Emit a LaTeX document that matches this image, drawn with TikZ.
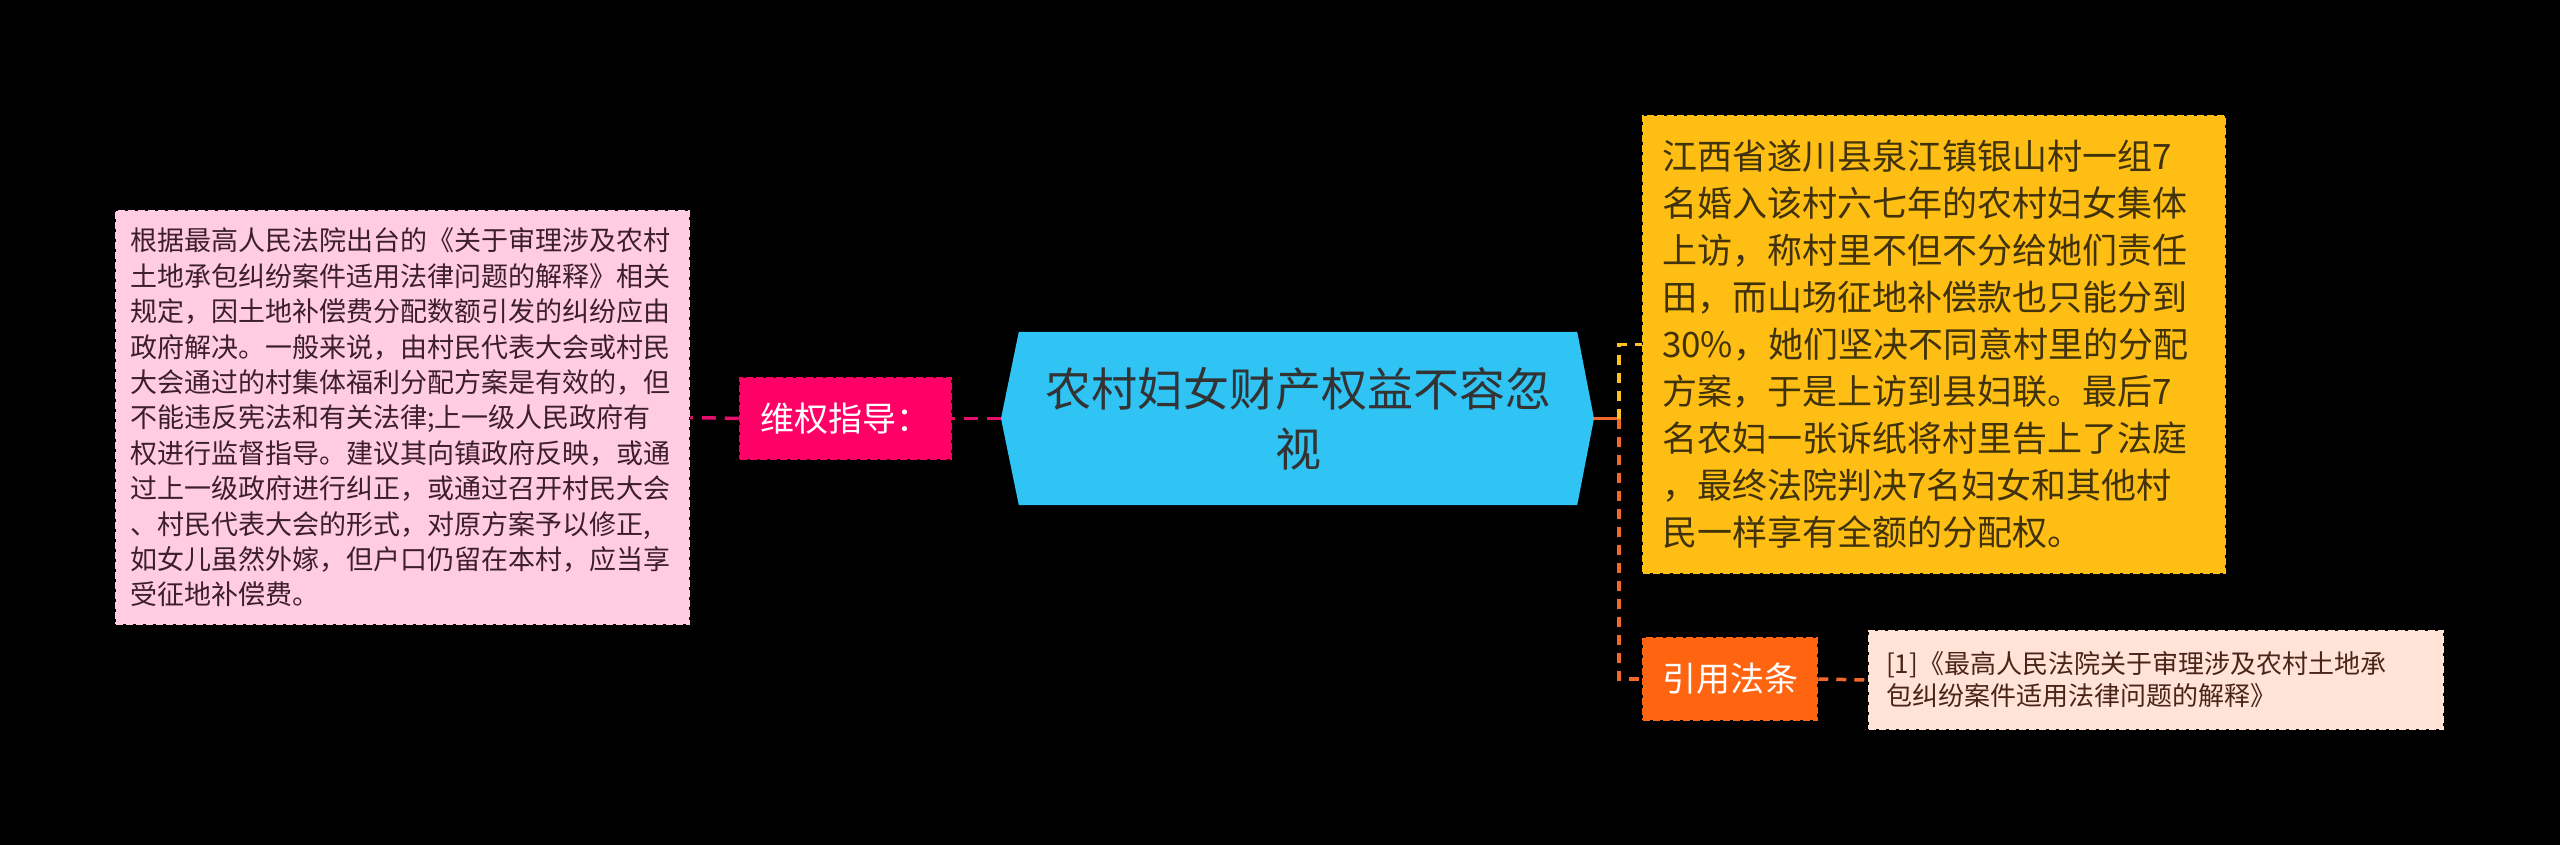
\documentclass[tikz,border=0pt]{standalone}
\usepackage{fontspec}
\newfontfamily\cjk{Noto Sans CJK SC}
\usetikzlibrary{backgrounds,calc}
\definecolor{pinkfill}{HTML}{FFCCE1}
\definecolor{pinktext}{HTML}{3D1F2B}
\definecolor{magfill}{HTML}{FF0066}
\definecolor{magline}{HTML}{E5106D}
\definecolor{cenfill}{HTML}{30C4F5}
\definecolor{centext}{HTML}{333333}
\definecolor{yelfill}{HTML}{FFBE14}
\definecolor{yeltext}{HTML}{40320A}
\definecolor{yelline}{HTML}{FFC21F}
\definecolor{orfill}{HTML}{FF6411}
\definecolor{orline}{HTML}{F2672C}
\definecolor{peachfill}{HTML}{FFE3D6}
\definecolor{peachtext}{HTML}{4A2419}
\tikzset{
  boxbase/.style={inner ysep=0pt, line width=2.5pt, dash pattern=on 7pt off 3pt},
  pinkbox/.style={boxbase, fill=pinkfill, draw=pinkfill, text=pinktext, align=left,
    inner xsep=14pt, text width=545pt, minimum height=413pt,
    font=\cjk\fontsize{27}{35.4}\selectfont},
  magbox/.style={boxbase, fill=magfill, draw=magfill, text=white, inner xsep=0pt,
    minimum width=211pt, minimum height=81pt, font=\cjk\fontsize{34}{40}\selectfont},
  centext/.style={inner sep=0pt, align=center, text=centext, minimum width=558pt,
    minimum height=173pt, font=\cjk\fontsize{46}{60}\selectfont},
  yelbox/.style={boxbase, fill=yelfill, draw=yelfill, text=yeltext, align=left,
    inner xsep=19pt, text width=544pt, minimum height=457pt,
    font=\cjk\fontsize{35}{47}\selectfont},
  citebox/.style={boxbase, fill=orfill, draw=orfill, text=white, inner xsep=0pt,
    minimum width=174pt, minimum height=82pt, font=\cjk\fontsize{34}{40}\selectfont},
  peachbox/.style={boxbase, fill=peachfill, draw=peachfill, text=peachtext, align=left,
    inner xsep=17pt, text width=540pt, minimum height=98pt,
    font=\cjk\fontsize{26}{32}\selectfont},
  maglink/.style={draw=magline, line width=3.5pt, dash pattern=on 14pt off 9pt},
  yellink/.style={draw=yelline, line width=3.5pt, dash pattern=on 10pt off 8pt},
  orlink/.style={draw=orline, line width=3.5pt, dash pattern=on 10pt off 8pt},
}
\begin{document}
\begin{tikzpicture}[x=1pt,y=-1pt]
\begin{scope}[on background layer]
\fill[black] (0,0) rectangle (2560,845);
\end{scope}
\useasboundingbox (0,0) rectangle (2560,845);

\node[pinkbox] (pink) at (402.5,417.5) {根据最高人民法院出台的《关于审理涉及农村\\土地承包纠纷案件适用法律问题的解释》相关\\规定，因土地补偿费分配数额引发的纠纷应由\\政府解决。一般来说，由村民代表大会或村民\\大会通过的村集体福利分配方案是有效的，但\\不能违反宪法和有关法律;上一级人民政府有\\权进行监督指导。建议其向镇政府反映，或通\\过上一级政府进行纠正，或通过召开村民大会\\、村民代表大会的形式，对原方案予以修正,\\如女儿虽然外嫁，但户口仍留在本村，应当享\\受征地补偿费。};

\node[magbox] (wq) at (845.5,418.5) {维权指导：};

\node[centext] (center) at (1298,418.5) {农村妇女财产权益不容忽\\视};
\coordinate (cw) at (1001,418.5);
\coordinate (ce) at (1594,418.5);
\begin{scope}[on background layer]
\fill[cenfill] (center.north west) -- (center.north east) -- (ce) -- (center.south east)
  -- (center.south west) -- (cw) -- cycle;
\end{scope}

\node[yelbox] (yel) at (1934,344.5) {江西省遂川县泉江镇银山村一组7\\名婚入该村六七年的农村妇女集体\\上访，称村里不但不分给她们责任\\田，而山场征地补偿款也只能分到\\30\%，她们坚决不同意村里的分配\\方案，于是上访到县妇联。最后7\\名农妇一张诉纸将村里告上了法庭\\，最终法院判决7名妇女和其他村\\民一样享有全额的分配权。};

\node[citebox] (cite) at (1730,679) {引用法条};

\node[peachbox] (peach) at (2156,680) {[1]《最高人民法院关于审理涉及农村土地承\\包纠纷案件适用法律问题的解释》};

\coordinate (trunk) at (1619,418.5);

\draw[maglink] (cw) -- (wq.east);
\draw[maglink] (wq.west) -- (pink.east);
\draw[draw=orline, line width=3.5pt] (ce) -- (trunk);
\draw[yellink] (trunk) |- (yel.west);
\draw[orlink] (trunk) |- (cite.west);
\draw[orlink] (cite.east) -- (peach.west);
\end{tikzpicture}
\end{document}
